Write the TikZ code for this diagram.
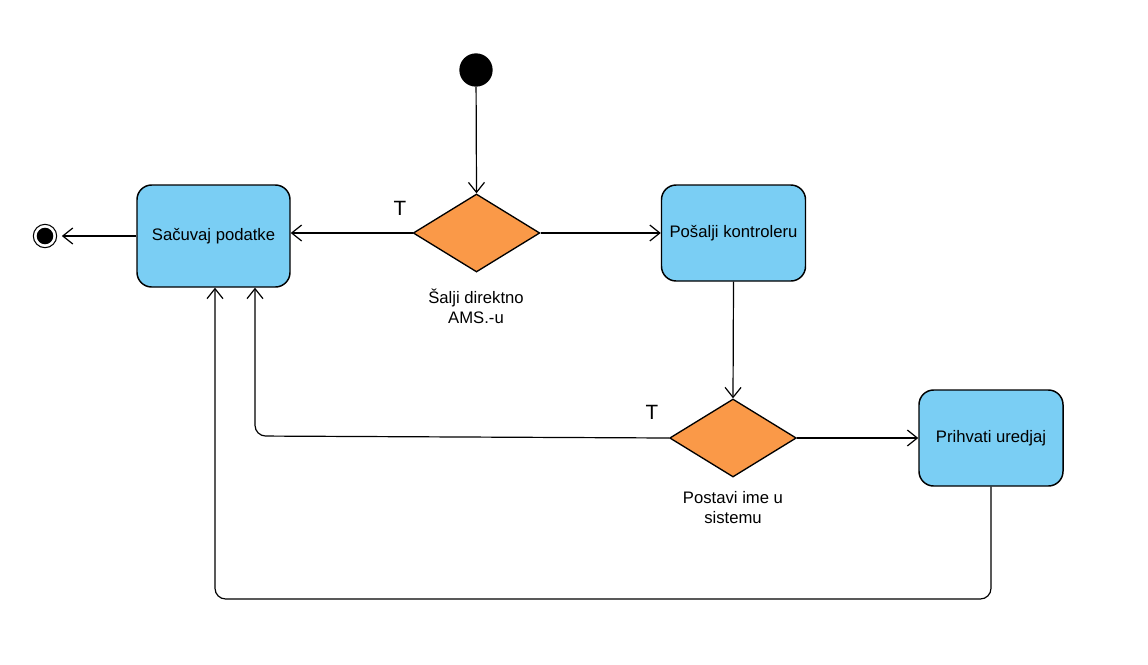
\documentclass[tikz,border=0pt]{standalone}
\usepackage{fontspec}
\setmainfont{Liberation Sans}
\usetikzlibrary{shapes.geometric,arrows.meta,calc}
\definecolor{stateblue}{RGB}{122,206,244}
\definecolor{choiceorange}{RGB}{250,153,72}
\begin{document}
\begin{tikzpicture}[x=0.75pt,y=-0.75pt,
  font=\fontsize{12.5pt}{15pt}\selectfont,
  state/.style={draw=black,line width=1.1pt,fill=stateblue,rounded corners=11pt,
    minimum width=108pt,minimum height=72pt,inner sep=2pt},
  choice/.style={draw=black,line width=1pt,fill=choiceorange,diamond,
    minimum width=95pt,minimum height=58.5pt,inner sep=0pt},
  flow/.style={draw=black,line width=0.9pt,-{Straight Barb[length=7.5pt,width=12pt,line width=0.9pt]}},
  guard/.style={font=\fontsize{15.5pt}{18pt}\selectfont},
  caption/.style={align=center,inner sep=0pt}]
\useasboundingbox (0,0) rectangle (1148,664);

% initial and final pseudo-states
\node[circle,fill=black,minimum size=25pt,inner sep=0pt] (start) at (476,70) {};
\node[circle,draw=black,line width=0.8pt,fill=white,minimum size=17.5pt,inner sep=0pt] (stop) at (45,236) {};
\fill[black] (stop.center) circle (6.2pt);

% actions
\node[state,minimum width=114.75pt,minimum height=76.5pt] (save) at (213.5,236) {Sačuvaj podatke};
\node[state] (send) at (733.5,233) {Pošalji kontroleru};
\node[state] (accept) at (991,438) {Prihvati uredjaj};

% decisions
\node[choice] (d1) at (476.5,233) {};
\node[choice] (d2) at (733,438) {};
\node[caption] (d1lbl) at (476,306) {Šalji direktno\\AMS.-u};
\node[caption] (d2lbl) at (733,508) {Postavi ime u\\sistemu};
\node[guard] (t1) at (400,208) {T};
\node[guard] (t2) at (652,412) {T};

% routing points
\coordinate (up1) at (255,436);
\coordinate (low) at (215,599);

% transitions
\draw[flow] (start) -- (d1.north);
\draw[flow] (d1.west) -- (d1.west -| save.east);
\draw[flow] (d1.east) -- (d1.east -| send.west);
\draw[flow] (send.south) -- (d2.north);
\draw[flow] (d2.east) -- (d2.east -| accept.west);
\draw[flow,shorten >=3.5pt] (save.west) -- (stop.east);
\draw[flow,rounded corners=8pt] (d2.west) -- (up1) -- (up1 |- save.south);
\draw[flow,rounded corners=8pt] (accept.south) -- (accept.south |- low) -- (low) -- (low |- save.south);
\end{tikzpicture}
\end{document}
